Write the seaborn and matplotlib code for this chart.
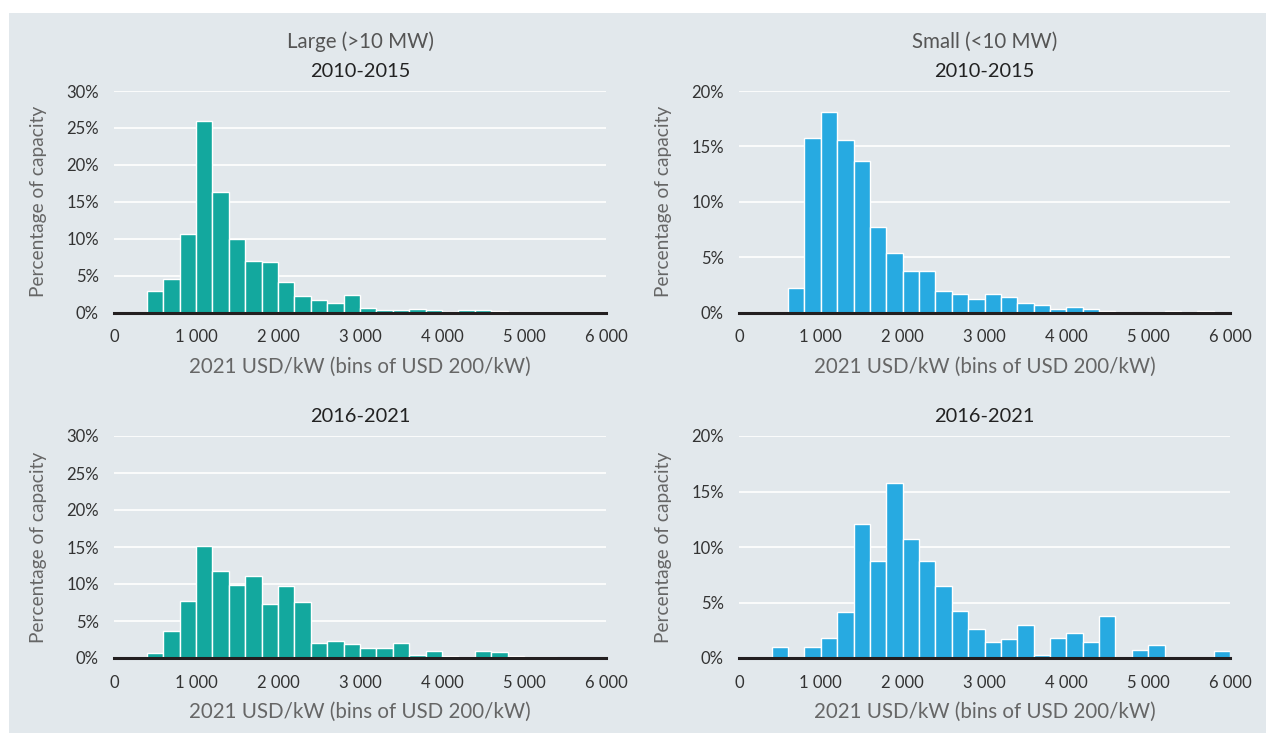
import numpy as np
import pandas as pd
import matplotlib
matplotlib.use("Agg")
import matplotlib.pyplot as plt
import seaborn as sns
from matplotlib.patches import Rectangle
from matplotlib.ticker import FuncFormatter

# ---- data (percentage of capacity per USD 200/kW bin, 0 .. 6000) ----
bin_edges = list(range(0, 6200, 200))
bin_centers = [e + 100 for e in bin_edges[:-1]]

large_2010_2015 = [0, 0, 2.9, 4.5, 10.6, 26.0, 16.4, 10.0, 7.0, 6.9,
                   4.2, 2.3, 1.7, 1.3, 2.4, 0.6, 0.3, 0.3, 0.5, 0.3,
                   0.05, 0.3, 0.4, 0.2, 0.1, 0.05, 0.05, 0.05, 0.05, 0.05]
small_2010_2015 = [0, 0, 0, 2.2, 15.8, 18.1, 15.6, 13.7, 7.7, 5.4,
                   3.8, 3.8, 2.0, 1.65, 1.25, 1.65, 1.4, 0.9, 0.65, 0.35,
                   0.55, 0.35, 0.18, 0.05, 0, 0.05, 0.15, 0.03, 0.15, 0]
large_2016_2021 = [0, 0, 0.7, 3.6, 7.7, 15.2, 11.8, 9.9, 11.1, 7.3,
                   9.7, 7.6, 2.0, 2.25, 1.9, 1.3, 1.4, 2.0, 0.4, 0.9,
                   0.3, 0.15, 0.9, 0.75, 0.3, 0.08, 0.15, 0, 0, 0]
small_2016_2021 = [0, 0, 0.96, 0, 0.96, 1.83, 4.17, 12.1, 8.7, 15.8,
                   10.7, 8.7, 6.5, 4.25, 2.65, 1.4, 1.75, 3.0, 0.25, 1.8,
                   2.25, 1.4, 3.75, 0, 0.72, 1.17, 0, 0, 0, 0.66]

x_ticks = [0, 1000, 2000, 3000, 4000, 5000, 6000]
y_ticks_large = [0, 5, 10, 15, 20, 25, 30]
y_ticks_small = [0, 5, 10, 15, 20]

col_titles = ["Large (>10 MW)", "Small (<10 MW)"]
period_titles = ["2010-2015", "2016-2021"]
x_label = "2021 USD/kW (bins of USD 200/kW)"
y_label = "Percentage of capacity"

TEAL = "#13a89e"
BLUE = "#27aae1"
BG = "#e2e8ec"

W, H = 1266, 733
sns.set_theme(style="white")
plt.rcParams["font.family"] = ["Lato", "DejaVu Sans"]

fig = plt.figure(figsize=(W / 100, H / 100), dpi=100, facecolor="white")
fig.patches.append(Rectangle((9 / W, 0), 1 - 9 / W, (H - 13) / H,
                             transform=fig.transFigure, facecolor=BG,
                             edgecolor="none", zorder=-10))


def rect(x0, y0, x1, y1):
    return [x0 / W, (H - y1) / H, (x1 - x0) / W, (y1 - y0) / H]


panels = [
    (rect(114, 91, 606, 312.7), large_2010_2015, TEAL, y_ticks_large, period_titles[0], col_titles[0]),
    (rect(739, 91, 1230, 312.7), small_2010_2015, BLUE, y_ticks_small, period_titles[0], col_titles[1]),
    (rect(114, 436, 606, 658), large_2016_2021, TEAL, y_ticks_large, period_titles[1], None),
    (rect(739, 436, 1230, 658), small_2016_2021, BLUE, y_ticks_small, period_titles[1], None),
]

fmt_x = FuncFormatter(lambda v, p: f"{int(v):,}".replace(",", " "))
fmt_y = FuncFormatter(lambda v, p: f"{int(v)}%")

for pos, vals, color, yt, ptitle, ctitle in panels:
    ax = fig.add_axes(pos)
    ax.set_facecolor(BG)
    df = pd.DataFrame({"cost": bin_centers, "share": vals})
    sns.histplot(data=df, x="cost", weights="share", bins=bin_edges,
                 stat="count", color=color, alpha=1, edgecolor="white",
                 linewidth=1.0, ax=ax, zorder=2)
    ax.set_xlim(0, 6000)
    ax.set_ylim(0, yt[-1])
    ax.set_yticks(yt)
    ax.set_xticks(x_ticks)
    ax.xaxis.set_major_formatter(fmt_x)
    ax.yaxis.set_major_formatter(fmt_y)
    ax.grid(axis="y", color="white", linewidth=1.2, zorder=0)
    ax.set_axisbelow(True)
    for s in ["top", "right", "left"]:
        ax.spines[s].set_visible(False)
    ax.spines["bottom"].set_color("#231f20")
    ax.spines["bottom"].set_linewidth(2.2)
    ax.spines["bottom"].set_zorder(5)
    ax.tick_params(axis="x", direction="out", length=4, width=1.6,
                   color="#231f20", labelsize=12, labelcolor="#333333", pad=8)
    ax.tick_params(axis="y", length=0, labelsize=12, labelcolor="#333333", pad=11)
    ax.set_xlabel(x_label, fontsize=14.8, color="#666666", labelpad=8)
    ax.set_ylabel(y_label, fontsize=13.8, color="#666666", labelpad=14)
    ax.set_title(ptitle, fontsize=14.4, color="#222222", pad=10)
    if ctitle:
        ax.text(0.5, 1.0 + (91 - 42) / (312.7 - 91), ctitle, transform=ax.transAxes,
                ha="center", va="center", fontsize=14.8, color="#555555")

fig.savefig("out.png", dpi=100, facecolor="white")
